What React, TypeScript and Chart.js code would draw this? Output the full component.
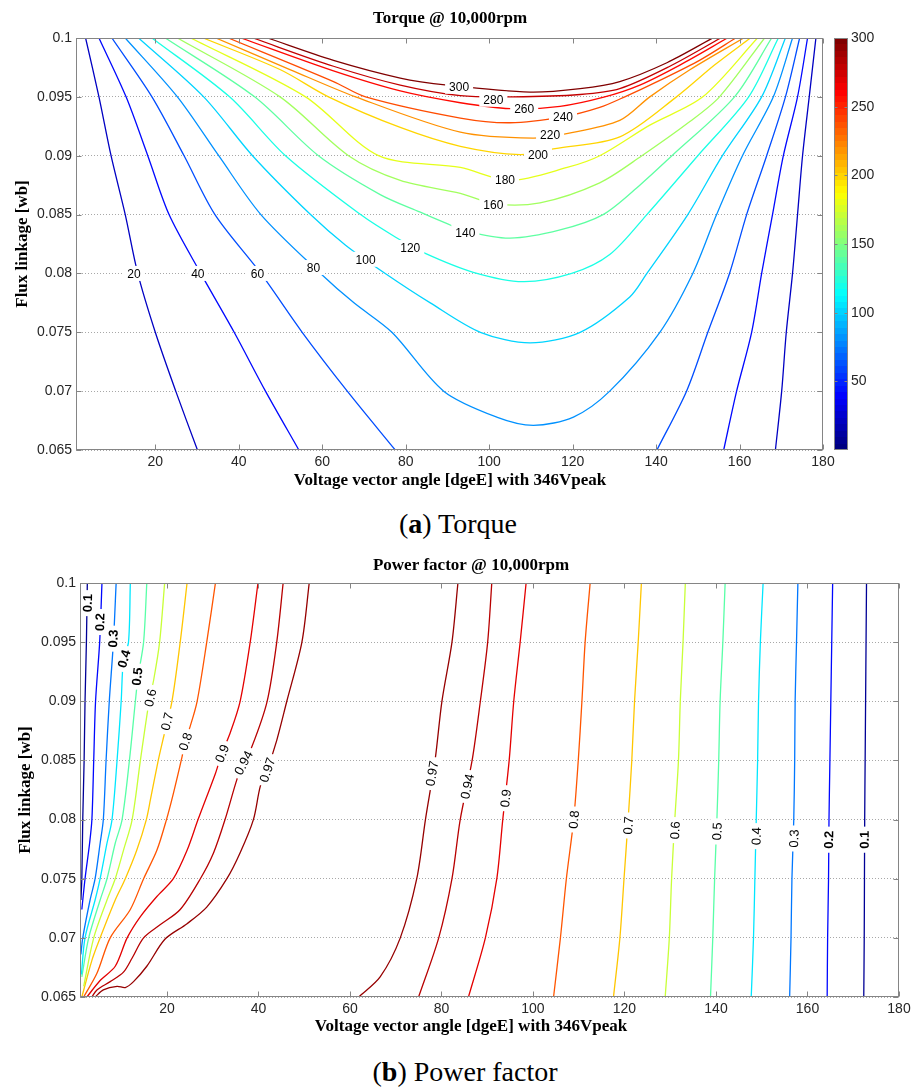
import React, { useEffect, useRef } from "react";
import { Chart, registerables } from "chart.js";

Chart.register(...registerables);

type Pt = [number, number];

const SANS = '"Liberation Sans", Arial, sans-serif';
const SERIF = '"Liberation Serif", "Times New Roman", serif';

// ================= shared axes =================
const angleRange: [number, number] = [1, 180];
const fluxRange: [number, number] = [0.065, 0.1];
const angleTicks = [20, 40, 60, 80, 100, 120, 140, 160, 180];
const fluxTicks = [0.065, 0.07, 0.075, 0.08, 0.085, 0.09, 0.095, 0.1];

// ================= (a) Torque @ 10,000rpm =================
const torqueLevels = [20, 40, 60, 80, 100, 120, 140, 160, 180, 200, 220, 240, 260, 280, 300];
const torqueColorRange: [number, number] = [0, 300];
const colorbarTicks = [50, 100, 150, 200, 250, 300];

// contour paths: [angle (dgeE), flux linkage (wb)]
const torque20a: Pt[] = [[3.3, 0.1], [6.5, 0.095], [9.4, 0.09], [12.8, 0.085], [15.8, 0.08], [20.0, 0.075], [24.9, 0.07], [30.1, 0.065]];
const torque20b: Pt[] = [[168.6, 0.065], [170.1, 0.07], [171.2, 0.075], [172.7, 0.08], [173.9, 0.085], [175.1, 0.09], [176.7, 0.095], [178.3, 0.1]];
const torque40a: Pt[] = [[6.5, 0.1], [13.0, 0.095], [18.2, 0.09], [23.3, 0.085], [30.9, 0.08], [38.9, 0.075], [46.4, 0.07], [54.4, 0.065]];
const torque40b: Pt[] = [[156.2, 0.065], [159.3, 0.07], [162.9, 0.075], [165.3, 0.08], [167.9, 0.085], [170.5, 0.09], [173.9, 0.095], [176.3, 0.1]];
const torque60a: Pt[] = [[9.6, 0.1], [19.2, 0.095], [26.9, 0.09], [34.3, 0.085], [45.3, 0.08], [55.2, 0.075], [66.0, 0.07], [77.5, 0.065]];
const torque60b: Pt[] = [[140.2, 0.065], [147.3, 0.07], [152.4, 0.075], [157.6, 0.08], [161.7, 0.085], [166.5, 0.09], [171.0, 0.095], [174.4, 0.1]];
const torque80: Pt[] = [[12.8, 0.1], [25.3, 0.095], [35.2, 0.09], [45.3, 0.085], [59.6, 0.08], [67.6, 0.0775], [76.7, 0.075], [89.1, 0.07], [101.8, 0.0678], [110.6, 0.0671], [120.2, 0.0678], [128.9, 0.07], [140.9, 0.075], [148.8, 0.08], [154.5, 0.085], [160.7, 0.09], [168.1, 0.095], [172.7, 0.1]];
const torque100: Pt[] = [[16.0, 0.1], [31.6, 0.095], [43.3, 0.09], [57.2, 0.085], [65.6, 0.0824], [75.1, 0.08], [85.9, 0.0775], [97.9, 0.075], [109.8, 0.0741], [121.8, 0.075], [133.7, 0.078], [137.8, 0.08], [147.6, 0.085], [155.9, 0.09], [165.3, 0.095], [171.0, 0.1]];
const torque120: Pt[] = [[19.2, 0.1], [37.8, 0.095], [51.2, 0.09], [69.2, 0.085], [77.5, 0.0831], [84.7, 0.0817], [96.2, 0.0801], [108.1, 0.0793], [119.8, 0.08], [128.9, 0.0816], [137.8, 0.085], [150.0, 0.09], [162.2, 0.095], [169.3, 0.1]];
const torque140: Pt[] = [[22.4, 0.1], [43.8, 0.095], [59.1, 0.09], [73.9, 0.0867], [83.5, 0.0852], [89.5, 0.0843], [94.3, 0.0836], [105.0, 0.083], [117.0, 0.0837], [127.3, 0.085], [136.1, 0.0875], [143.8, 0.09], [158.8, 0.095], [167.7, 0.1]];
const torque160: Pt[] = [[25.3, 0.1], [49.9, 0.095], [66.3, 0.09], [78.7, 0.0879], [93.1, 0.0868], [101.4, 0.0859], [112.2, 0.086], [126.5, 0.0877], [136.6, 0.09], [148.1, 0.0929], [155.2, 0.095], [166.0, 0.1]];
const torque180: Pt[] = [[28.5, 0.1], [56.0, 0.095], [73.5, 0.09], [93.1, 0.089], [105.0, 0.0879], [118.7, 0.089], [126.5, 0.09], [138.5, 0.0926], [151.2, 0.095], [164.3, 0.1]];
const torque200: Pt[] = [[31.5, 0.1], [50.0, 0.0973], [61.5, 0.095], [78.7, 0.0924], [93.1, 0.0908], [107.4, 0.0901], [115.8, 0.0906], [131.3, 0.0916], [144.9, 0.095], [154.0, 0.0977], [162.6, 0.1]];
const torque220: Pt[] = [[34.5, 0.1], [52.4, 0.0973], [68.0, 0.095], [93.1, 0.092], [110.5, 0.0915], [118.9, 0.0919], [131.3, 0.093], [138.5, 0.095], [148.1, 0.0973], [161.0, 0.1]];
const torque240: Pt[] = [[37.5, 0.1], [62.7, 0.0963], [70.4, 0.095], [93.1, 0.0932], [105.0, 0.0928], [117.7, 0.0933], [126.5, 0.0941], [132.5, 0.095], [140.9, 0.0964], [150.4, 0.0981], [159.1, 0.1]];
const torque260: Pt[] = [[40.5, 0.1], [62.7, 0.0972], [78.7, 0.0955], [93.1, 0.0945], [105.0, 0.094], [117.0, 0.0942], [127.7, 0.095], [136.1, 0.096], [145.7, 0.0977], [157.1, 0.1]];
const torque280: Pt[] = [[43.4, 0.1], [62.7, 0.0976], [78.7, 0.096], [93.1, 0.0951], [105.7, 0.095], [121.8, 0.0952], [131.3, 0.0957], [143.3, 0.0976], [155.5, 0.1]];
const torque300: Pt[] = [[46.9, 0.1], [62.7, 0.0981], [78.7, 0.0966], [90.0, 0.096], [109.8, 0.0954], [121.8, 0.0957], [131.3, 0.0963], [142.6, 0.0979], [153.6, 0.1]];

const torqueContours: { level: number; path: Pt[] }[] = [
  { level: 20, path: torque20a }, { level: 20, path: torque20b },
  { level: 40, path: torque40a }, { level: 40, path: torque40b },
  { level: 60, path: torque60a }, { level: 60, path: torque60b },
  { level: 80, path: torque80 }, { level: 100, path: torque100 },
  { level: 120, path: torque120 }, { level: 140, path: torque140 },
  { level: 160, path: torque160 }, { level: 180, path: torque180 },
  { level: 200, path: torque200 }, { level: 220, path: torque220 },
  { level: 240, path: torque240 }, { level: 260, path: torque260 },
  { level: 280, path: torque280 }, { level: 300, path: torque300 },
];

// inline contour labels: [level, angle, flux]
const torqueLabels: [number, number, number][] = [
  [300, 92.8, 0.0959], [280, 101.0, 0.0948], [260, 108.4, 0.094], [240, 117.7, 0.0933],
  [220, 114.6, 0.0918], [200, 111.7, 0.0901], [180, 103.8, 0.088], [160, 101.0, 0.0858],
  [140, 94.3, 0.0835], [120, 81.1, 0.0822], [100, 70.4, 0.0812], [80, 57.9, 0.0805],
  [60, 44.5, 0.08], [40, 30.2, 0.08], [20, 14.9, 0.08],
];

// ================= (b) Power factor @ 10,000rpm =================
const pfLevels = [0.1, 0.2, 0.3, 0.4, 0.5, 0.6, 0.7, 0.8, 0.9, 0.94, 0.97];
const pfColorRange: [number, number] = [0.08, 0.99];

const pf97a: Pt[] = [[51.1, 0.1], [49.5, 0.095], [46.2, 0.09], [44.0, 0.0867], [41.9, 0.0842], [40.4, 0.0828], [38.9, 0.08], [36.0, 0.0772], [33.1, 0.075], [28.7, 0.0726], [24.4, 0.0712], [19.6, 0.0699], [15.6, 0.0676], [12.7, 0.0663], [10.9, 0.0658], [9.1, 0.0659], [6.1, 0.0656], [4.3, 0.065]];
const pf94a: Pt[] = [[45.4, 0.1], [44.0, 0.095], [41.9, 0.09], [38.6, 0.0862], [36.7, 0.0848], [35.3, 0.0834], [32.7, 0.08], [30.2, 0.0772], [27.3, 0.075], [22.9, 0.0724], [18.5, 0.0711], [14.9, 0.07], [12.4, 0.0683], [10.5, 0.0671], [7.6, 0.0663], [4.7, 0.0656], [3.6, 0.065]];
const pf90a: Pt[] = [[39.9, 0.1], [38.2, 0.095], [36.0, 0.09], [33.8, 0.0873], [32.0, 0.0856], [30.6, 0.0839], [26.8, 0.08], [24.4, 0.0774], [21.4, 0.075], [17.8, 0.0735], [14.2, 0.0718], [11.3, 0.07], [8.7, 0.0676], [5.4, 0.0664], [2.5, 0.065]];
const pf80a: Pt[] = [[30.6, 0.1], [28.7, 0.095], [26.6, 0.09], [25.1, 0.0879], [24.0, 0.0866], [23.3, 0.0853], [21.4, 0.0822], [19.9, 0.08], [17.8, 0.0774], [14.9, 0.075], [12.0, 0.0724], [7.6, 0.07], [4.7, 0.067], [1.8, 0.065]];
const pf70a: Pt[] = [[24.4, 0.1], [22.9, 0.095], [21.1, 0.09], [19.1, 0.0867], [18.1, 0.085], [16.4, 0.0817], [15.5, 0.08], [13.4, 0.0774], [10.9, 0.075], [8.7, 0.0732], [5.4, 0.07], [3.6, 0.0681], [1.4, 0.065]];
const pf60a: Pt[] = [[19.5, 0.1], [18.4, 0.095], [17.1, 0.0918], [16.1, 0.09], [14.2, 0.085], [12.4, 0.08], [10.5, 0.0774], [8.7, 0.075], [6.9, 0.0732], [4.0, 0.07], [1.8, 0.0659]];
const pf50a: Pt[] = [[15.6, 0.1], [14.9, 0.095], [13.7, 0.0921], [13.1, 0.09], [11.8, 0.085], [10.2, 0.08], [8.7, 0.078], [6.9, 0.075], [5.4, 0.0732], [2.9, 0.07], [1.4, 0.0667]];
const pf40a: Pt[] = [[12.0, 0.1], [11.6, 0.095], [10.5, 0.0935], [10.0, 0.09], [9.1, 0.085], [8.0, 0.08], [6.9, 0.078], [5.4, 0.075], [4.3, 0.0732], [2.1, 0.07], [1.3, 0.0669]];
const pf30a: Pt[] = [[8.9, 0.1], [8.3, 0.095], [7.4, 0.09], [6.7, 0.085], [6.1, 0.08], [5.4, 0.078], [4.3, 0.075], [3.2, 0.0732], [1.6, 0.07], [1.2, 0.0686]];
const pf20a: Pt[] = [[5.8, 0.1], [5.3, 0.095], [4.4, 0.09], [4.0, 0.085], [3.6, 0.08], [3.1, 0.078], [2.1, 0.075], [1.4, 0.0724]];
const pf10a: Pt[] = [[2.6, 0.1], [2.4, 0.095], [2.1, 0.09], [1.9, 0.085], [1.6, 0.08], [1.4, 0.075], [1.2, 0.0732]];

const pf97b: Pt[] = [[83.6, 0.1], [82.3, 0.095], [80.1, 0.09], [78.6, 0.085], [76.5, 0.08], [74.6, 0.075], [71.0, 0.07], [66.6, 0.0667], [61.9, 0.065]];
const pf94b: Pt[] = [[91.0, 0.1], [90.1, 0.095], [88.5, 0.09], [86.7, 0.085], [84.1, 0.08], [82.3, 0.075], [79.4, 0.07], [75.0, 0.065]];
const pf90b: Pt[] = [[98.5, 0.1], [97.2, 0.095], [95.8, 0.09], [94.8, 0.085], [93.4, 0.08], [92.1, 0.075], [89.6, 0.07], [85.9, 0.065]];
const pf80b: Pt[] = [[112.5, 0.1], [111.4, 0.095], [110.7, 0.09], [109.9, 0.085], [108.9, 0.08], [107.3, 0.075], [106.0, 0.07], [104.5, 0.065]];
const pf70b: Pt[] = [[123.7, 0.1], [123.0, 0.095], [122.2, 0.09], [121.6, 0.085], [120.8, 0.08], [119.9, 0.075], [119.0, 0.07], [117.6, 0.065]];
const pf60b: Pt[] = [[133.3, 0.1], [132.8, 0.095], [132.2, 0.09], [131.8, 0.085], [131.0, 0.08], [130.3, 0.075], [129.8, 0.07], [128.9, 0.065]];
const pf50b: Pt[] = [[142.0, 0.1], [141.5, 0.095], [140.9, 0.09], [140.6, 0.085], [140.2, 0.08], [139.7, 0.075], [139.3, 0.07], [138.8, 0.065]];
const pf40b: Pt[] = [[150.3, 0.1], [149.7, 0.095], [149.3, 0.09], [149.1, 0.085], [148.8, 0.08], [148.5, 0.075], [148.2, 0.07], [147.7, 0.065]];
const pf30b: Pt[] = [[157.9, 0.1], [157.6, 0.095], [157.3, 0.09], [157.2, 0.085], [157.0, 0.08], [156.6, 0.075], [156.4, 0.07], [156.1, 0.065]];
const pf20b: Pt[] = [[165.5, 0.1], [165.3, 0.095], [165.1, 0.09], [164.9, 0.085], [164.7, 0.08], [164.6, 0.075], [164.4, 0.07], [164.3, 0.065]];
const pf10b: Pt[] = [[172.9, 0.1], [172.8, 0.095], [172.7, 0.09], [172.6, 0.085], [172.5, 0.08], [172.45, 0.075], [172.4, 0.07], [172.3, 0.065]];

const pfContours: { level: number; path: Pt[] }[] = [
  { level: 0.1, path: pf10a }, { level: 0.1, path: pf10b },
  { level: 0.2, path: pf20a }, { level: 0.2, path: pf20b },
  { level: 0.3, path: pf30a }, { level: 0.3, path: pf30b },
  { level: 0.4, path: pf40a }, { level: 0.4, path: pf40b },
  { level: 0.5, path: pf50a }, { level: 0.5, path: pf50b },
  { level: 0.6, path: pf60a }, { level: 0.6, path: pf60b },
  { level: 0.7, path: pf70a }, { level: 0.7, path: pf70b },
  { level: 0.8, path: pf80a }, { level: 0.8, path: pf80b },
  { level: 0.9, path: pf90a }, { level: 0.9, path: pf90b },
  { level: 0.94, path: pf94a }, { level: 0.94, path: pf94b },
  { level: 0.97, path: pf97a }, { level: 0.97, path: pf97b },
];

// inline contour labels: [level, angle, flux, bold]
const pfLabels: [number, number, number, boolean][] = [
  [0.1, 2.6, 0.0983, true], [0.2, 5.3, 0.0967, true], [0.3, 8.2, 0.0953, true],
  [0.4, 10.6, 0.0936, true], [0.5, 13.44, 0.0921, true], [0.6, 16.35, 0.0903, false],
  [0.7, 20.0, 0.0883, false], [0.8, 24.0, 0.0866, false], [0.9, 32.0, 0.0856, false],
  [0.94, 36.7, 0.0848, false], [0.97, 41.9, 0.0842, false],
  [0.97, 77.9, 0.0839, false], [0.94, 85.6, 0.0828, false], [0.9, 94.0, 0.0818, false],
  [0.8, 108.9, 0.08, false], [0.7, 120.8, 0.0795, false], [0.6, 131.0, 0.0791, false],
  [0.5, 140.2, 0.079, false], [0.4, 148.8, 0.0786, false], [0.3, 157.0, 0.0784, false],
  [0.2, 164.6, 0.0783, true], [0.1, 172.4, 0.0783, true],
];

// ================= helpers =================
function jet(t: number): string {
  const c = (v: number) => Math.max(0, Math.min(1, v));
  const r = c(Math.min(4 * t - 1.5, -4 * t + 4.5));
  const g = c(Math.min(4 * t - 0.5, -4 * t + 3.5));
  const b = c(Math.min(4 * t + 0.5, -4 * t + 2.5));
  return `rgb(${Math.round(r * 255)},${Math.round(g * 255)},${Math.round(b * 255)})`;
}

const framePlugin = {
  id: "frameDeco",
  afterDraw(chart: any, _a: any, opts: any) {
    const { ctx, chartArea: ca, scales } = chart;
    const L = Math.round(ca.left) + 0.5;
    const R = Math.round(ca.right) - 0.5;
    const T = Math.round(ca.top) + 0.5;
    const B = Math.round(ca.bottom) - 0.5;
    const len = opts.tickLength ?? 5;
    ctx.save();
    ctx.strokeStyle = opts.color || "#858585";
    ctx.lineWidth = 1;
    ctx.strokeRect(L, T, R - L, B - T);
    ctx.beginPath();
    if (opts.xTicks) {
      for (const t of scales.x.ticks) {
        const px = Math.round(scales.x.getPixelForValue(t.value)) + 0.5;
        ctx.moveTo(px, B);
        ctx.lineTo(px, B - len);
        ctx.moveTo(px, T);
        ctx.lineTo(px, T + len);
      }
    }
    if (opts.yTicks) {
      for (const t of scales.y.ticks) {
        const py = Math.round(scales.y.getPixelForValue(t.value)) + 0.5;
        ctx.moveTo(L, py);
        ctx.lineTo(L + len, py);
        ctx.moveTo(R, py);
        ctx.lineTo(R - len, py);
      }
    }
    ctx.stroke();
    ctx.restore();
  },
};

const textPlugin = {
  id: "textDeco",
  afterDraw(chart: any, _a: any, opts: any) {
    const ctx = chart.ctx;
    for (const it of opts.items || []) {
      ctx.save();
      ctx.font = it.font;
      ctx.fillStyle = "#000";
      ctx.textAlign = "center";
      ctx.textBaseline = "middle";
      ctx.translate(it.x, it.y);
      if (it.rotate) ctx.rotate(it.rotate);
      ctx.fillText(it.text, 0, 0);
      ctx.restore();
    }
  },
};

const contourLabelPlugin = {
  id: "contourLabels",
  afterDatasetsDraw(chart: any, _a: any, opts: any) {
    const { ctx, scales } = chart;
    const xs = scales.x, ys = scales.y;
    for (const lb of opts.labels || []) {
      const px = xs.getPixelForValue(lb.x);
      const py = ys.getPixelForValue(lb.y);
      let angle = 0;
      if (opts.rotate) {
        let best = Infinity;
        chart.data.datasets.forEach((ds: any, i: number) => {
          if (ds.level !== lb.level) return;
          const pts = chart.getDatasetMeta(i).data;
          for (let k = 0; k < pts.length - 1; k++) {
            const a = pts[k], b = pts[k + 1];
            const dx = b.x - a.x, dy = b.y - a.y;
            const l2 = dx * dx + dy * dy || 1;
            let u = ((px - a.x) * dx + (py - a.y) * dy) / l2;
            u = Math.max(0, Math.min(1, u));
            const qx = a.x + u * dx - px, qy = a.y + u * dy - py;
            const d = qx * qx + qy * qy;
            if (d < best) {
              best = d;
              let ang = Math.atan2(dy, dx);
              if (ang > Math.PI / 2 - 1e-6) ang -= Math.PI;
              if (ang < -Math.PI / 2 - 1e-6) ang += Math.PI;
              angle = ang;
            }
          }
        });
      }
      ctx.save();
      ctx.font = `${lb.bold ? "bold " : ""}${opts.size}px ${SANS}`;
      const w = ctx.measureText(lb.text).width;
      ctx.translate(px, py);
      ctx.rotate(angle);
      ctx.fillStyle = "#fff";
      ctx.fillRect(-w / 2 - opts.padX, -opts.boxH / 2, w + 2 * opts.padX, opts.boxH);
      ctx.fillStyle = "#000";
      ctx.textAlign = "center";
      ctx.textBaseline = "middle";
      ctx.fillText(lb.text, 0, 1);
      ctx.restore();
    }
  },
};

function contourConfig(p: {
  contours: { level: number; path: Pt[] }[];
  labels: { level: number; x: number; y: number; text: string; bold?: boolean }[];
  colorRange: [number, number];
  yWidth: number;
  xHeight: number;
  padding: { top: number; right: number; bottom: number; left: number };
  texts: any[];
  rotate: boolean;
  labelSize: number;
}): any {
  const [c0, c1] = p.colorRange;
  return {
    type: "scatter",
    data: {
      datasets: p.contours.map((c) => ({
        level: c.level,
        data: c.path.map(([x, y]) => ({ x, y })),
        showLine: true,
        borderColor: jet((c.level - c0) / (c1 - c0)),
        backgroundColor: "transparent",
        borderWidth: 1.3,
        pointRadius: 0,
        pointHoverRadius: 0,
        tension: 0.3,
        fill: false,
      })),
    },
    options: {
      responsive: false,
      maintainAspectRatio: false,
      animation: false,
      events: [],
      layout: { padding: p.padding },
      plugins: {
        legend: { display: false },
        tooltip: { enabled: false },
        title: { display: false },
        contourLabels: { labels: p.labels, rotate: p.rotate, size: p.labelSize, padX: 4, boxH: p.rotate ? 14 : 15 },
        frameDeco: { xTicks: true, yTicks: true, tickLength: 5 },
        textDeco: { items: p.texts },
      },
      scales: {
        x: {
          type: "linear",
          min: angleRange[0],
          max: angleRange[1],
          grid: { display: false },
          border: { display: false },
          afterBuildTicks: (s: any) => {
            s.ticks = angleTicks.map((v) => ({ value: v }));
          },
          afterFit: (s: any) => {
            s.height = p.xHeight;
          },
          ticks: {
            autoSkip: false,
            maxRotation: 0,
            padding: -4,
            color: "#262626",
            font: { family: SANS, size: 14 },
            callback: (v: any) => String(v),
          },
        },
        y: {
          type: "linear",
          min: fluxRange[0],
          max: fluxRange[1],
          grid: { color: "#a8a8a8", lineWidth: 1, drawTicks: false },
          border: { display: false, dash: [1, 2] },
          afterBuildTicks: (s: any) => {
            s.ticks = fluxTicks.map((v) => ({ value: v }));
          },
          afterFit: (s: any) => {
            s.width = p.yWidth;
          },
          ticks: {
            padding: 4,
            color: "#262626",
            font: { family: SANS, size: 14 },
            callback: (v: any) => String(Number(Number(v).toFixed(3))),
          },
        },
      },
    },
    plugins: [contourLabelPlugin, framePlugin, textPlugin],
  };
}

function colorbarConfig(): any {
  const [c0, c1] = torqueColorRange;
  return {
    type: "bar",
    data: {
      labels: [""],
      datasets: [
        {
          data: [c1],
          borderWidth: 0,
          barPercentage: 1,
          categoryPercentage: 1,
          backgroundColor: (ctx: any) => {
            const area = ctx.chart.chartArea;
            if (!area) return "#0000ff";
            const g = ctx.chart.ctx.createLinearGradient(0, area.bottom, 0, area.top);
            const n = 64;
            for (let i = 0; i < n; i++) {
              const col = jet(i / (n - 1));
              g.addColorStop(i / n, col);
              g.addColorStop((i + 1) / n, col);
            }
            return g;
          },
        },
      ],
    },
    options: {
      responsive: false,
      maintainAspectRatio: false,
      animation: false,
      events: [],
      layout: { padding: { left: 8, top: 38, right: 0, bottom: 50 } },
      plugins: {
        legend: { display: false },
        tooltip: { enabled: false },
        frameDeco: { xTicks: false, yTicks: true, tickLength: 3 },
      },
      scales: {
        x: { display: false },
        y: {
          position: "right",
          min: c0,
          max: c1,
          grid: { display: false, drawTicks: false },
          border: { display: false },
          afterBuildTicks: (s: any) => {
            s.ticks = colorbarTicks.map((v) => ({ value: v }));
          },
          afterFit: (s: any) => {
            s.width = 68;
          },
          ticks: {
            padding: 3,
            color: "#262626",
            font: { family: SANS, size: 14 },
          },
        },
      },
    },
    plugins: [framePlugin],
  };
}

const TITLE_FONT = `bold 17px ${SERIF}`;

const captionStyle = (cx: number, top: number): React.CSSProperties => ({
  position: "absolute",
  left: cx - 250,
  width: 500,
  top,
  textAlign: "center",
  fontFamily: SERIF,
  fontSize: 28,
  lineHeight: "28px",
  color: "#000",
  whiteSpace: "nowrap",
});

export default function App() {
  const topRef = useRef<HTMLCanvasElement>(null);
  const cbRef = useRef<HTMLCanvasElement>(null);
  const botRef = useRef<HTMLCanvasElement>(null);

  useEffect(() => {
    const charts: Chart[] = [];
    charts.push(
      new Chart(
        topRef.current!,
        contourConfig({
          contours: torqueContours,
          labels: torqueLabels.map(([level, x, y]) => ({ level, x, y, text: String(level) })),
          colorRange: torqueColorRange,
          yWidth: 76,
          xHeight: 50,
          padding: { top: 38, right: 93, bottom: 0, left: 0 },
          rotate: false,
          labelSize: 12,
          texts: [
            { text: "Torque @ 10,000rpm", x: 450, y: 19, font: TITLE_FONT },
            { text: "Voltage vector angle [dgeE] with 346Vpeak", x: 450, y: 481, font: TITLE_FONT },
            { text: "Flux linkage [wb]", x: 23, y: 244, rotate: -Math.PI / 2, font: TITLE_FONT },
          ],
        })
      )
    );
    charts.push(new Chart(cbRef.current!, colorbarConfig()));
    charts.push(
      new Chart(
        botRef.current!,
        contourConfig({
          contours: pfContours,
          labels: pfLabels.map(([level, x, y, bold]) => ({ level, x, y, bold, text: String(level) })),
          colorRange: pfColorRange,
          yWidth: 80,
          xHeight: 43,
          padding: { top: 43, right: 17, bottom: 0, left: 0 },
          rotate: true,
          labelSize: 13,
          texts: [
            { text: "Power factor @ 10,000rpm", x: 471, y: 26, font: TITLE_FONT },
            { text: "Voltage vector angle [dgeE] with 346Vpeak", x: 471, y: 487, font: TITLE_FONT },
            { text: "Flux linkage [wb]", x: 26, y: 250, rotate: -Math.PI / 2, font: TITLE_FONT },
          ],
        })
      )
    );
    return () => charts.forEach((c) => c.destroy());
  }, []);

  return (
    <div
      style={{
        position: "absolute",
        left: 0,
        top: 0,
        width: 916,
        height: 1089,
        background: "#fff",
        overflow: "hidden",
      }}
    >
      <canvas ref={topRef} width={916} height={500} style={{ position: "absolute", left: 0, top: 0, width: 916, height: 500 }} />
      <canvas ref={cbRef} width={90} height={500} style={{ position: "absolute", left: 826, top: 0, width: 90, height: 500 }} />
      <div style={captionStyle(458, 510)}>
        (<b>a</b>) Torque
      </div>
      <canvas ref={botRef} width={916} height={500} style={{ position: "absolute", left: 0, top: 540, width: 916, height: 500 }} />
      <div style={captionStyle(465, 1058)}>
        (<b>b</b>) Power factor
      </div>
    </div>
  );
}
